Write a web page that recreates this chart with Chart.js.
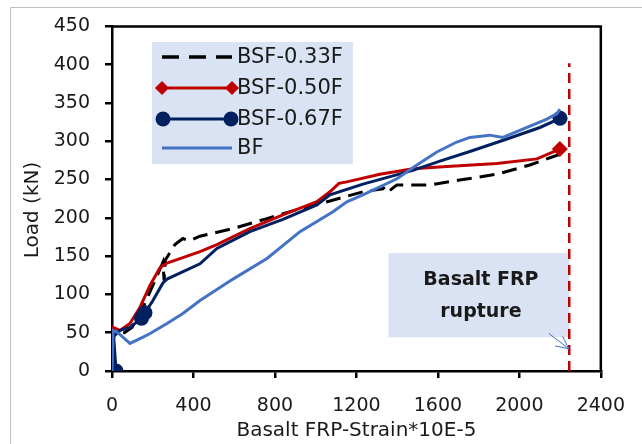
<!DOCTYPE html>
<html><head><meta charset="utf-8">
<script src="https://cdn.jsdelivr.net/npm/chart.js@4.4.0/dist/chart.umd.min.js"></script>
<style>html,body{margin:0;padding:0;background:#fff;} canvas{display:block;}</style>
</head><body>
<canvas id="c" width="642" height="444"></canvas>
<script>
// ---------- DATA ----------
const xTickValues = [0, 400, 800, 1200, 1600, 2000, 2400];
const yTickValues = [0, 50, 100, 150, 200, 250, 300, 350, 400, 450];
const seriesNames = ['BSF-0.33F', 'BSF-0.50F', 'BSF-0.67F', 'BF'];
const xTitle = 'Basalt FRP-Strain*10E-5';
const yTitle = 'Load (kN)';

// [strain, load]
const bsf033 = [[0,0],[4,30],[10,48],[60,50],[98,57],[152,83],[211,118],[250,142],[256,118],[262,145],[309,165],[348,173],[380,170],[432,176],[594,186],[761,199],[923,212],[1070,222],[1232,234],[1330,238],[1350,243],[1370,237],[1399,243],[1561,243],[1723,250],[1890,257],[2052,269],[2199,283]];
const bsf050 = [[0,0],[5,57],[39,53],[88,62],[137,83],[187,112],[236,135],[270,141],[348,148],[432,156],[515,165],[677,186],[839,204],[1006,221],[1070,234],[1114,245],[1153,247],[1315,257],[1477,264],[1644,267],[1890,271],[2086,277],[2184,288],[2199,290]];
const bsf067 = [[20,0],[8,45],[39,53],[88,57],[145,69],[162,76],[201,92],[250,115],[270,120],[432,140],[515,160],[677,182],[839,198],[1006,217],[1070,230],[1232,244],[1477,262],[1610,274],[1772,288],[1939,303],[2101,318],[2200,330]];
const bf = [[0,0],[5,53],[29,50],[88,36],[150,44],[187,49],[270,62],[348,75],[432,92],[594,120],[761,147],[923,182],[1085,208],[1153,221],[1232,230],[1399,251],[1497,269],[1595,286],[1693,299],[1757,305],[1855,308],[1919,305],[2017,316],[2135,329],[2185,336],[2199,342]];
const ruptureLine = [[2245,0],[2245,402]];
const annotationText = ['Basalt FRP', 'rupture'];
const annotationBox = {x0: 1357, x1: 2246, y0: 44, y1: 154};
const arrowFrom = [2145, 49];
const arrowTo = [2243, 29];

const COLORS = {black:'#000000', red:'#C00000', navy:'#002060', blue:'#4472C4'};
const FONT = '"DejaVu Sans", sans-serif';

const toPts = a => a.map(p => ({x: p[0], y: p[1]}));
const endRadii = (n, r, idx) => Array.from({length: n}, (_, i) => idx.includes(i) ? r : 0);

const overlay = {
  id: 'overlay',
  beforeDatasetsDraw(chart) {
    const {ctx, scales: {x, y}} = chart;
    ctx.save();
    const bx0 = x.getPixelForValue(annotationBox.x0), bx1 = x.getPixelForValue(annotationBox.x1);
    const by0 = y.getPixelForValue(annotationBox.y1), by1 = y.getPixelForValue(annotationBox.y0);
    ctx.fillStyle = '#DAE3F3';
    ctx.fillRect(bx0, by0, bx1 - bx0, by1 - by0);
    ctx.fillStyle = '#1a1a1a';
    ctx.font = 'bold 19px ' + FONT;
    ctx.textAlign = 'center'; ctx.textBaseline = 'middle';
    const cx = (bx0 + bx1) / 2 + 2, cy = (by0 + by1) / 2;
    ctx.fillText(annotationText[0], cx, cy - 15);
    ctx.fillText(annotationText[1], cx, cy + 17);
    ctx.restore();
  },
  afterDraw(chart) {
    const {ctx, chartArea: a, scales: {x, y}} = chart;
    ctx.save();
    ctx.strokeStyle = '#BFBFBF'; ctx.lineWidth = 1;
    ctx.beginPath(); ctx.moveTo(10.5, 444); ctx.lineTo(10.5, 7.5); ctx.lineTo(642, 7.5); ctx.stroke();
    ctx.strokeStyle = '#000'; ctx.lineWidth = 2.5;
    ctx.beginPath(); ctx.moveTo(a.left, a.top); ctx.lineTo(a.right, a.top); ctx.lineTo(a.right, a.bottom); ctx.stroke();
    const ax0 = x.getPixelForValue(arrowFrom[0]), ay0 = y.getPixelForValue(arrowFrom[1]);
    const ax1 = x.getPixelForValue(arrowTo[0]), ay1 = y.getPixelForValue(arrowTo[1]);
    ctx.strokeStyle = '#4472C4'; ctx.lineWidth = 1;
    ctx.beginPath(); ctx.moveTo(ax0, ay0); ctx.lineTo(ax1, ay1); ctx.stroke();
    const ang = Math.atan2(ay1 - ay0, ax1 - ax0);
    ctx.beginPath();
    ctx.moveTo(ax1 - 14 * Math.cos(ang - 0.45), ay1 - 14 * Math.sin(ang - 0.45));
    ctx.lineTo(ax1, ay1);
    ctx.lineTo(ax1 - 14 * Math.cos(ang + 0.45), ay1 - 14 * Math.sin(ang + 0.45));
    ctx.stroke();
    ctx.fillStyle = '#1a1a1a';
    ctx.font = '20px ' + FONT;
    ctx.textAlign = 'center'; ctx.textBaseline = 'middle';
    ctx.translate(33, 210); ctx.rotate(-Math.PI / 2);
    ctx.fillText(yTitle, 0, 0);
    ctx.setTransform(1, 0, 0, 1, 0, 0);
    const L = {x: 152, y: 42, w: 201, h: 122};
    ctx.fillStyle = '#DAE3F3';
    ctx.fillRect(L.x, L.y, L.w, L.h);
    const rows = [57, 88, 119, 148];
    const lx0 = 162, lx1 = 232;
    ctx.strokeStyle = COLORS.black; ctx.lineWidth = 3.5; ctx.setLineDash([17, 10]);
    ctx.beginPath(); ctx.moveTo(lx0, rows[0]); ctx.lineTo(lx1, rows[0]); ctx.stroke();
    ctx.setLineDash([]);
    ctx.strokeStyle = COLORS.red; ctx.fillStyle = COLORS.red; ctx.lineWidth = 3;
    ctx.beginPath(); ctx.moveTo(lx0, rows[1]); ctx.lineTo(lx1, rows[1]); ctx.stroke();
    [lx0, lx1].forEach(px => { ctx.beginPath(); ctx.moveTo(px, rows[1] - 7); ctx.lineTo(px + 7, rows[1]); ctx.lineTo(px, rows[1] + 7); ctx.lineTo(px - 7, rows[1]); ctx.closePath(); ctx.fill(); });
    ctx.strokeStyle = COLORS.navy; ctx.fillStyle = COLORS.navy;
    ctx.beginPath(); ctx.moveTo(lx0, rows[2]); ctx.lineTo(lx1, rows[2]); ctx.stroke();
    [lx0 + 1, lx1 - 1].forEach(px => { ctx.beginPath(); ctx.arc(px, rows[2], 7.5, 0, 2 * Math.PI); ctx.fill(); });
    ctx.strokeStyle = COLORS.blue; ctx.lineWidth = 3;
    ctx.beginPath(); ctx.moveTo(lx0, rows[3]); ctx.lineTo(lx1, rows[3]); ctx.stroke();
    ctx.fillStyle = '#1a1a1a'; ctx.font = '21px ' + FONT; ctx.textAlign = 'left'; ctx.textBaseline = 'middle';
    seriesNames.forEach((n, i) => ctx.fillText(n, 237, rows[i] + 1));
    ctx.restore();
  }
};

new Chart(document.getElementById('c'), {
  type: 'line',
  data: {
    datasets: [
      {label: seriesNames[0], data: toPts(bsf033), borderColor: COLORS.black, borderWidth: 3, borderDash: [15, 8], pointRadius: 0, order: 4},
      {label: seriesNames[1], data: toPts(bsf050), borderColor: COLORS.red, backgroundColor: COLORS.red, borderWidth: 3, pointStyle: 'rectRot', pointRadius: endRadii(bsf050.length, 8, [bsf050.length - 1]), pointBorderWidth: 0, order: 3},
      {label: seriesNames[2], data: toPts(bsf067), borderColor: COLORS.navy, backgroundColor: COLORS.navy, borderWidth: 3, pointStyle: 'circle', pointRadius: endRadii(bsf067.length, 7.5, [0, 4, 5, bsf067.length - 1]), pointBorderWidth: 0, order: 2},
      {label: seriesNames[3], data: toPts(bf), borderColor: COLORS.blue, borderWidth: 3, pointRadius: 0, order: 1},
      {label: 'rupture', data: toPts(ruptureLine), borderColor: COLORS.red, borderWidth: 2.5, borderDash: [10, 6], pointRadius: 0, order: 5}
    ]
  },
  options: {
    responsive: false, animation: false, devicePixelRatio: 1,
    layout: {padding: {left: 0, top: 22, right: 39, bottom: 0}},
    plugins: {legend: {display: false}, tooltip: {enabled: false}},
    elements: {line: {tension: 0}},
    scales: {
      x: {
        type: 'linear', min: 0, max: 2400,
        afterBuildTicks: s => { s.ticks = xTickValues.map(v => ({value: v})); },
        afterFit: s => { s.height = 73; },
        ticks: {callback: v => String(v), color: '#1a1a1a', font: {family: FONT, size: 19}, padding: 17, maxRotation: 0},
        grid: {drawOnChartArea: false, drawTicks: true, tickLength: 7, color: '#000', lineWidth: 2.5},
        border: {color: '#000', width: 2.5},
        title: {display: true, text: xTitle, color: '#1a1a1a', font: {family: FONT, size: 20}, padding: {top: 0, bottom: 1}}
      },
      y: {
        type: 'linear', min: 0, max: 450,
        afterBuildTicks: s => { s.ticks = yTickValues.map(v => ({value: v})); },
        afterFit: s => { s.width = 112; },
        ticks: {callback: v => String(v), color: '#1a1a1a', font: {family: FONT, size: 19}, padding: 15},
        grid: {drawOnChartArea: false, drawTicks: true, tickLength: 7, color: '#000', lineWidth: 2.5},
        border: {color: '#000', width: 2.5}
      }
    }
  },
  plugins: [overlay]
});
</script>
</body></html>
